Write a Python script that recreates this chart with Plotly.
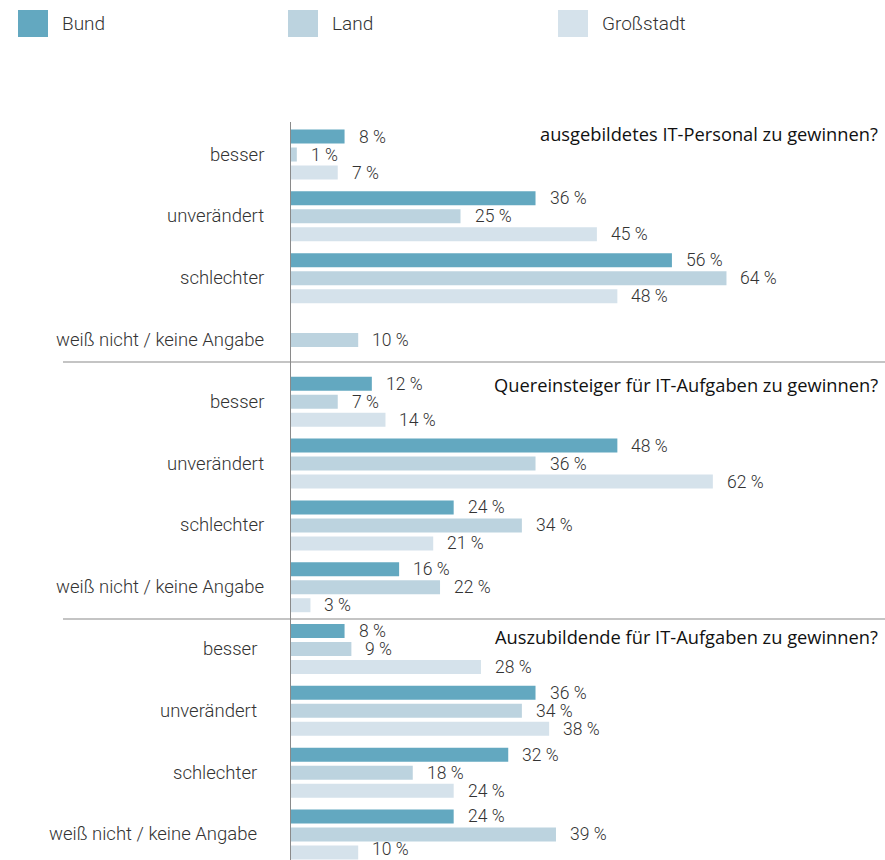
import plotly.graph_objects as go

categories = ["besser", "unverändert", "schlechter", "weiß nicht / keine Angabe"] * 3
panel_titles = [
    "ausgebildetes IT-Personal zu gewinnen?",
    "Quereinsteiger für IT-Aufgaben zu gewinnen?",
    "Auszubildende für IT-Aufgaben zu gewinnen?",
]
series_names = ["Bund", "Land", "Großstadt"]
bund = [8, 36, 56, None, 12, 48, 24, 16, 8, 36, 32, 24]
land = [1, 25, 64, 10, 7, 36, 34, 22, 9, 34, 18, 39]
grossstadt = [7, 45, 48, None, 14, 62, 21, 3, 28, 38, 24, 10]
colors = ["#63a8c0", "#bcd3df", "#d5e2eb"]

W, H = 885, 860
TEXT = "#333333"
FONT = "Roboto"

positions = list(range(len(categories)))
fig = go.Figure()
for name, vals, col in zip(series_names, [bund, land, grossstadt], colors):
    fig.add_trace(go.Bar(
        y=positions, x=vals, orientation="h", name=name,
        marker=dict(color=col, line=dict(width=0)), showlegend=False,
    ))

annotations = []
# value labels
offsets = [-1, 0, 1]
slot = (1 - 0.126) / 3
last = len(categories) - 1
for k, vals in enumerate([bund, land, grossstadt]):
    for i, v in enumerate(vals):
        if v is None:
            continue
        annotations.append(dict(
            x=v, y=i + offsets[k] * slot, xref="x", yref="y",
            text=f"{v} %", showarrow=False, xanchor="left", yanchor="middle",
            xshift=13, yshift=3 if (i == last and k == 2) else 0, borderpad=0,
            font=dict(family=FONT, size=17.5, color=TEXT, weight=300),
        ))
# category labels
for i, c in enumerate(categories):
    xr = 266 if i < 8 else 259
    annotations.append(dict(
        x=xr / W, y=i, xref="paper", yref="y", text=c, showarrow=False,
        xanchor="right", yanchor="middle",
        font=dict(family=FONT, size=18.5, color=TEXT, weight=300),
    ))
# panel titles
title_py = [133, 384, 636]
for t, py in zip(panel_titles, title_py):
    annotations.append(dict(
        x=880 / W, y=(H - py) / H, xref="paper", yref="paper", text=t, showarrow=False,
        xanchor="right", yanchor="middle",
        font=dict(family="Open Sans", size=18.3, color="#111111", weight=400),
    ))
# legend
shapes = []
leg_x = [18, 288, 558]
for name, col, lx in zip(series_names, colors, leg_x):
    shapes.append(dict(type="rect", xref="paper", yref="paper",
                       x0=lx / W, x1=(lx + 30) / W, y0=(H - 37) / H, y1=(H - 10) / H,
                       fillcolor=col, line=dict(width=0)))
    annotations.append(dict(
        x=(lx + 42) / W, y=(H - 23) / H, xref="paper", yref="paper", text=name,
        showarrow=False, xanchor="left", yanchor="middle",
        font=dict(family=FONT, size=19, color=TEXT, weight=300),
    ))
# separators
for py in [362, 619]:
    shapes.append(dict(type="line", xref="paper", yref="paper",
                       x0=63 / W, x1=1, y0=(H - py) / H, y1=(H - py) / H,
                       line=dict(color="#b0b0b0", width=1.5)))
# vertical axis line
shapes.append(dict(type="line", xref="x", yref="paper", x0=0, x1=0,
                   y0=0, y1=(H - 122) / H, line=dict(color="#8a8a8a", width=2)))

fig.update_layout(
    width=W, height=H, margin=dict(l=0, r=0, t=0, b=0),
    paper_bgcolor="white", plot_bgcolor="white",
    barmode="group", bargap=0.126, bargroupgap=0.222,
    xaxis=dict(domain=[290 / W, 1], range=[0, 595 / 6.82], showgrid=False,
               zeroline=False, showticklabels=False, showline=False, fixedrange=True),
    yaxis=dict(domain=[0, 760 / H], range=[11.413, -0.882], showgrid=False,
               zeroline=False, showticklabels=False, showline=False, fixedrange=True),
    annotations=annotations, shapes=shapes,
    font=dict(family=FONT, color=TEXT),
)
fig.write_html("out.html", config={"displayModeBar": False},
               post_script="document.body.style.margin='0';document.body.style.overflow='hidden';")
